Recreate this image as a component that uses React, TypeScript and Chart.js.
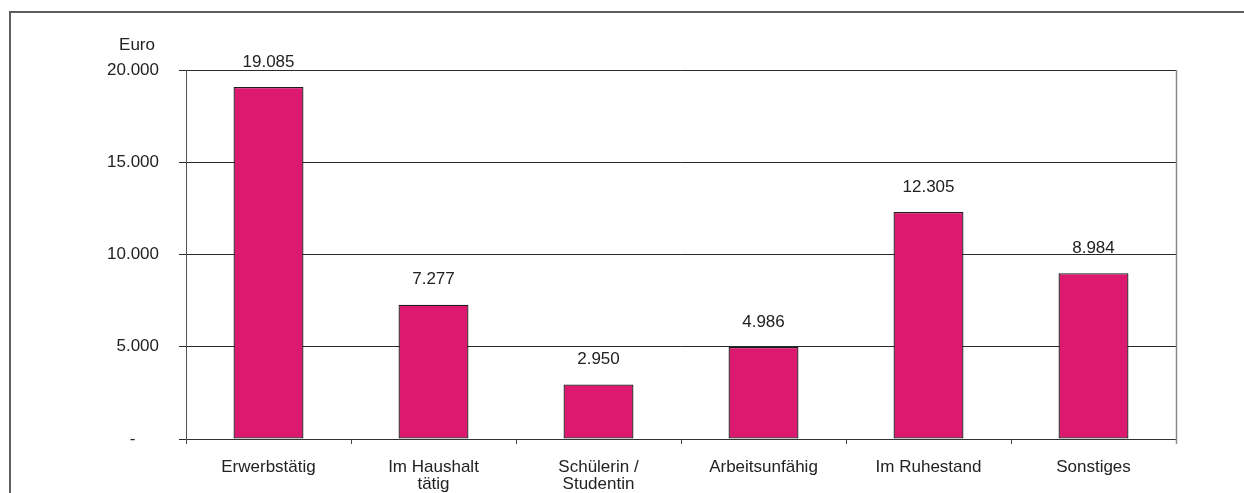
import React, { useEffect, useRef } from "react";
import { Chart, registerables } from "chart.js";

Chart.register(...registerables);

const categories: (string | string[])[] = [
  "Erwerbstätig",
  ["Im Haushalt", "tätig"],
  ["Schülerin /", "Studentin"],
  "Arbeitsunfähig",
  "Im Ruhestand",
  "Sonstiges",
];
const values: number[] = [19085, 7277, 2950, 4986, 12305, 8984];
const yTicks: number[] = [0, 5000, 10000, 15000, 20000];
const unitLabel = "Euro";

const FONT = "'Liberation Sans', Arial, Helvetica, sans-serif";
const TEXT = "#222222";

function fmt(v: number): string {
  const s = Math.round(v).toString();
  return s.replace(/\B(?=(\d{3})+(?!\d))/g, ".");
}

const decorPlugin = {
  id: "decor",
  afterDraw(chart: any) {
    const { ctx, chartArea } = chart;
    ctx.save();
    // right edge of plot frame
    ctx.strokeStyle = "#8a8a8a";
    ctx.lineWidth = 1.5;
    ctx.beginPath();
    ctx.moveTo(chartArea.right + 0.5, chartArea.top);
    ctx.lineTo(chartArea.right + 0.5, chartArea.bottom + 5);
    ctx.stroke();
    // unit label
    ctx.fillStyle = TEXT;
    ctx.font = `17px ${FONT}`;
    ctx.textAlign = "center";
    ctx.textBaseline = "middle";
    ctx.fillText(unitLabel, chartArea.left - 49, chartArea.top - 25);
    // value labels
    const meta = chart.getDatasetMeta(0);
    meta.data.forEach((el: any, i: number) => {
      ctx.fillText(fmt(values[i]), el.x, el.y - 25);
    });
    ctx.restore();
  },
};

export default function App() {
  const ref = useRef<HTMLCanvasElement | null>(null);
  useEffect(() => {
    if (!ref.current) return;
    const chart = new Chart(ref.current, {
      type: "bar",
      data: {
        labels: categories,
        datasets: [
          {
            data: values,
            backgroundColor: "#dc196e",
            borderColor: "#1e1e1e",
            borderWidth: 1.3,
            borderSkipped: false,
            inflateAmount: 0,
            categoryPercentage: 1,
            barPercentage: 0.424,
          },
        ],
      },
      options: {
        responsive: false,
        animation: false,
        layout: { padding: { top: 70, right: 68, left: 0, bottom: 0 } },
        plugins: {
          legend: { display: false },
          tooltip: { enabled: false },
          title: { display: false },
        },
        scales: {
          x: {
            afterFit: (s: any) => {
              s.height = 54;
            },
            grid: {
              offset: true,
              drawOnChartArea: false,
              drawTicks: true,
              tickLength: 5,
              color: "#444444",
            },
            border: { display: true, color: "#333333", width: 1 },
            ticks: {
              color: TEXT,
              padding: 15,
              maxRotation: 0,
              autoSkip: false,
              font: { family: FONT, size: 17, lineHeight: 1.0 },
            },
          },
          y: {
            min: 0,
            max: 20000,
            afterFit: (s: any) => {
              s.width = 186;
            },
            afterBuildTicks: (s: any) => {
              s.ticks = yTicks.map((v) => ({ value: v }));
            },
            grid: {
              color: "#2a2a2a",
              lineWidth: 1,
              tickLength: 7,
              drawTicks: true,
            },
            border: { display: true, color: "#555555", width: 1 },
            ticks: {
              color: TEXT,
              padding: 20,
              font: { family: FONT, size: 17 },
              callback: (v: any) => (Number(v) === 0 ? "-     " : fmt(Number(v))),
            },
          },
        },
      },
      plugins: [decorPlugin],
    });
    return () => chart.destroy();
  }, []);

  return (
    <div
      style={{
        position: "fixed",
        left: 0,
        top: 0,
        width: 1244,
        height: 493,
        background: "#ffffff",
        overflow: "hidden",
      }}
    >
      <div
        style={{
          position: "absolute",
          left: 9,
          top: 11,
          width: 1300,
          height: 600,
          borderTop: "2px solid #5e5e5e",
          borderLeft: "2px solid #5e5e5e",
          boxSizing: "border-box",
        }}
      />
      <canvas
        ref={ref}
        width={1244}
        height={493}
        style={{ position: "absolute", left: 0, top: 0, width: 1244, height: 493 }}
      />
    </div>
  );
}
